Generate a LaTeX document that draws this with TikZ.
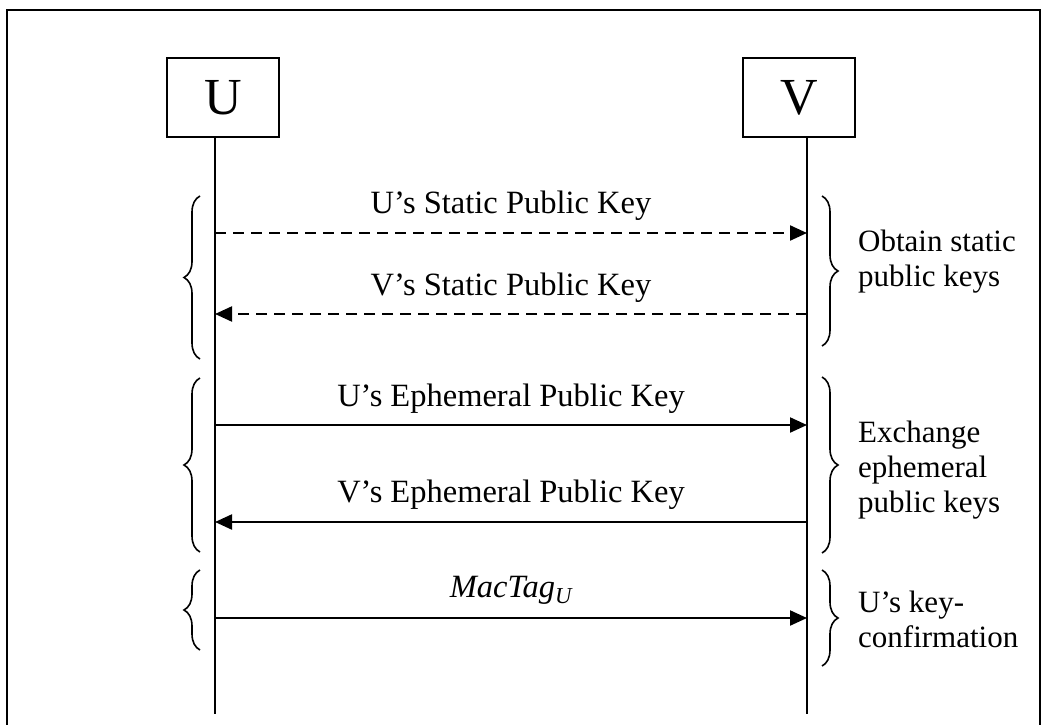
\documentclass[tikz,border=0pt]{standalone}
\usepackage{fontspec}
\setmainfont{Liberation Serif}
\usetikzlibrary{arrows.meta,decorations.pathreplacing}
\begin{document}
\begin{tikzpicture}[x=1pt,y=-1pt,
  actor/.style={draw,line width=2.2pt,minimum width=112pt,minimum height=79pt,inner sep=0pt,font=\fontsize{52}{52}\selectfont},
  life/.style={line width=2.2pt},
  msg/.style={line width=2.2pt,-{Triangle[length=17pt,width=15pt]}},
  dmsg/.style={msg,dash pattern=on 11pt off 7pt},
  lbl/.style={font=\fontsize{32.5}{32.5}\selectfont,inner sep=0pt},
  side/.style={font=\fontsize{31}{35}\selectfont,align=left,inner sep=0pt,anchor=north west},
  brc/.style={line width=1.6pt,decorate,decoration={brace,amplitude=16pt}}
]
\useasboundingbox (0,0) rectangle (1049,725);
% frame
\draw[line width=2.2pt] (7,725) -- (7,10) -- (1040,10) -- (1040,725);
% actors
\node[actor] (U) at (223,97.5) {U};
\node[actor] (V) at (799,97.5) {V};
\coordinate (Utop) at (215,137);
\coordinate (Ubot) at (215,714);
\coordinate (Vtop) at (807,137);
\coordinate (Vbot) at (807,714);
\draw[life] (Utop) -- (Ubot);
\draw[life] (Vtop) -- (Vbot);
% message anchors
\coordinate (u1) at (215,233); \coordinate (v1) at (807,233);
\coordinate (u2) at (215,314); \coordinate (v2) at (807,314);
\coordinate (u3) at (215,425); \coordinate (v3) at (807,425);
\coordinate (u4) at (215,522); \coordinate (v4) at (807,522);
\coordinate (u5) at (215,618); \coordinate (v5) at (807,618);
\draw[dmsg] (u1) -- (v1);
\draw[dmsg] (v2) -- (u2);
\draw[msg] (u3) -- (v3);
\draw[msg] (v4) -- (u4);
\draw[msg] (u5) -- (v5);
% labels
\node[lbl] (l1) at (511,206) {U’s Static Public Key};
\node[lbl] (l2) at (511,288) {V’s Static Public Key};
\node[lbl] (l3) at (511,399) {U’s Ephemeral Public Key};
\node[lbl] (l4) at (511,495) {V’s Ephemeral Public Key};
\node[lbl] (l5) at (511,590) {\textit{MacTag\textsubscript{U}}};
% left braces
\coordinate (lb1b) at (200,359); \coordinate (lb1t) at (200,196);
\coordinate (lb2b) at (200,552); \coordinate (lb2t) at (200,378);
\coordinate (lb3b) at (200,650); \coordinate (lb3t) at (200,570);
\draw[brc] (lb1b) -- (lb1t);
\draw[brc] (lb2b) -- (lb2t);
\draw[brc] (lb3b) -- (lb3t);
% right braces
\coordinate (rb1t) at (822,196); \coordinate (rb1b) at (822,346);
\coordinate (rb2t) at (822,377); \coordinate (rb2b) at (822,553);
\coordinate (rb3t) at (822,570); \coordinate (rb3b) at (822,666);
\draw[brc] (rb1t) -- (rb1b);
\draw[brc] (rb2t) -- (rb2b);
\draw[brc] (rb3t) -- (rb3b);
% side texts
\node[side] (s1) at (858,230) {Obtain static\\public keys};
\node[side] (s2) at (858,421) {Exchange\\ephemeral\\public keys};
\node[side] (s3) at (858,591) {U’s key-\\confirmation};
\end{tikzpicture}
\end{document}
